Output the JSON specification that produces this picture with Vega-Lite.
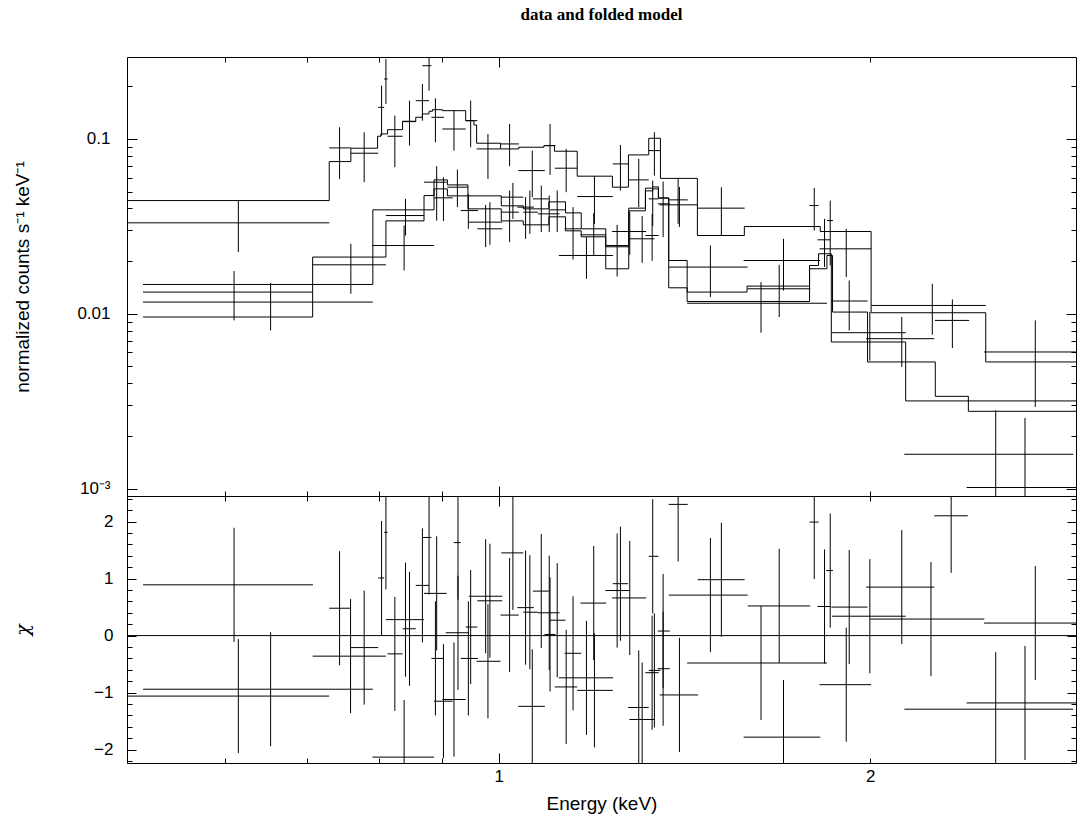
{
"$schema": "https://vega.github.io/schema/vega-lite/v6.json",
"background": "white",
"padding": {"left": 13, "right": 0, "top": 5, "bottom": 5},
"spacing": 0,
"bounds": "flush",
"config": {
 "view": {"stroke": null},
 "axis": {"labelFont": "Liberation Sans", "titleFont": "Liberation Sans", "labelFontSize": 17, "titleFontSize": 19, "titleFontWeight": "normal", "labelColor": "black", "titleColor": "black", "domainColor": "black", "tickColor": "black", "domainWidth": 1, "tickWidth": 1, "grid": false, "labelOverlap": false, "labelBound": false, "labelFlush": false}
},
"datasets": {
 "spec": [
  {"e":0.6105,"elo":0.5152,"ehi":0.7069,"y":0.0133,"ylo":0.00916,"yhi":0.01754},
  {"e":0.6154,"elo":0.5010,"ehi":0.7291,"y":0.03311,"ylo":0.02252,"yhi":0.0444},
  {"e":0.6536,"elo":0.5152,"ehi":0.7909,"y":0.01166,"ylo":0.00803,"yhi":0.01503},
  {"e":0.7433,"elo":0.7291,"ehi":0.7591,"y":0.08884,"ylo":0.05907,"yhi":0.1166},
  {"e":0.7591,"elo":0.7069,"ehi":0.8104,"y":0.01905,"ylo":0.01301,"yhi":0.02512},
  {"e":0.7782,"elo":0.7591,"ehi":0.7988,"y":0.08286,"ylo":0.05657,"yhi":0.1092},
  {"e":0.8039,"elo":0.7988,"ehi":0.8078,"y":0.1517,"ylo":0.1044,"yhi":0.2017},
  {"e":0.8104,"elo":0.8078,"ehi":0.8129,"y":0.2203,"ylo":0.1585,"yhi":0.2865},
  {"e":0.8240,"elo":0.8129,"ehi":0.8359,"y":0.1036,"ylo":0.06891,"yhi":0.1359},
  {"e":0.8384,"elo":0.7904,"ehi":0.8865,"y":0.02456,"ylo":0.01768,"yhi":0.03196},
  {"e":0.8406,"elo":0.8104,"ehi":0.8701,"y":0.03645,"ylo":0.02802,"yhi":0.04541},
  {"e":0.8469,"elo":0.8359,"ehi":0.8568,"y":0.1262,"ylo":0.09157,"yhi":0.1655},
  {"e":0.8675,"elo":0.8568,"ehi":0.8783,"y":0.1655,"ylo":0.1272,"yhi":0.2062},
  {"e":0.8783,"elo":0.8675,"ehi":0.8822,"y":0.2624,"ylo":0.1888,"yhi":0.3727},
  {"e":0.8888,"elo":0.8822,"ehi":0.9032,"y":0.1330,"ylo":0.09574,"yhi":0.1708},
  {"e":0.8909,"elo":0.8701,"ehi":0.9077,"y":0.05657,"ylo":0.03412,"yhi":0.06982},
  {"e":0.9022,"elo":0.8865,"ehi":0.9180,"y":0.04602,"ylo":0.0339,"yhi":0.06041},
  {"e":0.9201,"elo":0.9005,"ehi":0.9404,"y":0.1140,"ylo":0.08573,"yhi":0.1451},
  {"e":0.9260,"elo":0.9089,"ehi":0.9444,"y":0.05297,"ylo":0.04072,"yhi":0.06677},
  {"e":0.9492,"elo":0.9404,"ehi":0.9611,"y":0.1272,"ylo":0.08966,"yhi":0.1655},
  {"e":0.9451,"elo":0.9317,"ehi":0.9622,"y":0.03893,"ylo":0.0306,"yhi":0.0485},
  {"e":0.9761,"elo":0.9462,"ehi":1.0069,"y":0.03342,"ylo":0.02405,"yhi":0.04197},
  {"e":0.9839,"elo":0.9611,"ehi":1.0069,"y":0.0306,"ylo":0.02479,"yhi":0.04348},
  {"e":0.9803,"elo":0.9598,"ehi":1.0037,"y":0.08768,"ylo":0.05907,"yhi":0.1068},
  {"e":1.0207,"elo":1.0037,"ehi":1.0385,"y":0.09363,"ylo":0.06982,"yhi":0.1218},
  {"e":1.0270,"elo":1.0050,"ehi":1.0471,"y":0.04645,"ylo":0.0349,"yhi":0.05605},
  {"e":1.0207,"elo":1.0050,"ehi":1.0385,"y":0.03811,"ylo":0.02569,"yhi":0.05066},
  {"e":1.0516,"elo":1.0355,"ehi":1.0680,"y":0.04072,"ylo":0.02683,"yhi":0.04645},
  {"e":1.0600,"elo":1.0471,"ehi":1.0760,"y":0.03811,"ylo":0.02865,"yhi":0.05066},
  {"e":1.0648,"elo":1.0374,"ehi":1.0901,"y":0.0659,"ylo":0.04645,"yhi":0.08573},
  {"e":1.0828,"elo":1.0660,"ehi":1.0982,"y":0.04541,"ylo":0.0293,"yhi":0.05408},
  {"e":1.0990,"elo":1.0760,"ehi":1.1203,"y":0.03727,"ylo":0.0293,"yhi":0.04743},
  {"e":1.1007,"elo":1.0895,"ehi":1.1119,"y":0.09157,"ylo":0.06227,"yhi":0.1218},
  {"e":1.1155,"elo":1.1003,"ehi":1.1329,"y":0.03929,"ylo":0.0293,"yhi":0.05066},
  {"e":1.1343,"elo":1.1105,"ehi":1.1579,"y":0.06801,"ylo":0.0496,"yhi":0.08768},
  {"e":1.1489,"elo":1.1308,"ehi":1.1666,"y":0.0306,"ylo":0.02043,"yhi":0.04072},
  {"e":1.1780,"elo":1.1188,"ehi":1.2381,"y":0.02154,"ylo":0.01585,"yhi":0.02744},
  {"e":1.1957,"elo":1.1579,"ehi":1.2372,"y":0.04681,"ylo":0.03268,"yhi":0.06122},
  {"e":1.1941,"elo":1.1650,"ehi":1.2221,"y":0.02827,"ylo":0.02154,"yhi":0.03762},
  {"e":1.2474,"elo":1.2205,"ehi":1.2764,"y":0.02415,"ylo":0.01633,"yhi":0.03225},
  {"e":1.2551,"elo":1.2372,"ehi":1.2733,"y":0.07197,"ylo":0.05066,"yhi":0.09241},
  {"e":1.2771,"elo":1.2358,"ehi":1.3167,"y":0.02953,"ylo":0.02174,"yhi":0.03828},
  {"e":1.2987,"elo":1.2733,"ehi":1.3231,"y":0.05831,"ylo":0.04072,"yhi":0.07687},
  {"e":1.3070,"elo":1.2764,"ehi":1.3372,"y":0.02683,"ylo":0.01956,"yhi":0.03616},
  {"e":1.3330,"elo":1.3231,"ehi":1.3472,"y":0.04541,"ylo":0.0317,"yhi":0.05777},
  {"e":1.3372,"elo":1.3231,"ehi":1.3523,"y":0.08573,"ylo":0.0617,"yhi":0.1092},
  {"e":1.3315,"elo":1.3150,"ehi":1.3480,"y":0.02802,"ylo":0.02008,"yhi":0.03727},
  {"e":1.3591,"elo":1.3455,"ehi":1.3760,"y":0.04252,"ylo":0.02744,"yhi":0.05702},
  {"e":1.3977,"elo":1.3734,"ehi":1.4230,"y":0.04481,"ylo":0.03268,"yhi":0.05907},
  {"e":1.4011,"elo":1.3505,"ehi":1.4507,"y":0.04197,"ylo":0.03141,"yhi":0.05317},
  {"e":1.5151,"elo":1.4496,"ehi":1.5823,"y":0.04018,"ylo":0.02802,"yhi":0.05297},
  {"e":1.4844,"elo":1.3734,"ehi":1.5912,"y":0.01849,"ylo":0.01245,"yhi":0.02456},
  {"e":1.6314,"elo":1.4214,"ehi":1.8448,"y":0.01148,"ylo":0.007787,"yhi":0.01517},
  {"e":1.6877,"elo":1.5912,"ehi":1.7884,"y":0.01389,"ylo":0.009575,"yhi":0.01905},
  {"e":1.7013,"elo":1.5793,"ehi":1.8220,"y":0.02016,"ylo":0.01358,"yhi":0.02683},
  {"e":1.8017,"elo":1.7860,"ehi":1.8162,"y":0.04158,"ylo":0.02992,"yhi":0.05248},
  {"e":1.8562,"elo":1.8448,"ehi":1.8656,"y":0.03412,"ylo":0.01888,"yhi":0.0444},
  {"e":1.8366,"elo":1.8128,"ehi":1.8562,"y":0.02648,"ylo":0.01849,"yhi":0.0349},
  {"e":1.9231,"elo":1.8600,"ehi":1.9900,"y":0.01182,"ylo":0.008028,"yhi":0.0155},
  {"e":1.9124,"elo":1.8196,"ehi":2.0033,"y":0.02351,"ylo":0.01621,"yhi":0.0306},
  {"e":1.9985,"elo":1.8621,"ehi":2.1371,"y":0.007787,"ylo":0.005387,"yhi":0.01026},
  {"e":2.1212,"elo":1.9848,"ehi":2.2538,"y":0.007197,"ylo":0.00496,"yhi":0.009575},
  {"e":2.2454,"elo":2.0041,"ehi":2.4808,"y":0.01115,"ylo":0.007586,"yhi":0.01483},
  {"e":2.3311,"elo":2.2568,"ehi":2.4053,"y":0.009156,"ylo":0.006368,"yhi":0.01207},
  {"e":2.7210,"elo":2.4729,"ehi":2.9395,"y":0.006041,"ylo":0.00293,"yhi":0.009156},
  {"e":2.5274,"elo":2.1315,"ehi":2.9210,"y":0.00157,"ylo":0.0004,"yhi":0.002802},
  {"e":2.6693,"elo":2.3937,"ehi":2.9395,"y":0.001013,"ylo":0.0004,"yhi":0.002535}
 ],
 "model": [
  {"s":"U","e":0.5010,"m":0.0444},{"s":"U","e":0.7291,"m":0.0742},{"s":"U","e":0.7591,"m":0.08849},{"s":"U","e":0.7979,"m":0.1036},
  {"s":"U","e":0.8028,"m":0.1068},{"s":"U","e":0.8129,"m":0.1130},{"s":"U","e":0.8359,"m":0.1256},{"s":"U","e":0.8568,"m":0.1330},
  {"s":"U","e":0.8675,"m":0.1390},{"s":"U","e":0.8783,"m":0.1440},{"s":"U","e":0.8838,"m":0.1470},{"s":"U","e":0.9005,"m":0.1451},
  {"s":"U","e":0.9404,"m":0.1272},{"s":"U","e":0.9550,"m":0.1202},{"s":"U","e":0.9598,"m":0.0945},{"s":"U","e":1.0037,"m":0.08768},
  {"s":"U","e":1.0385,"m":0.08966},{"s":"U","e":1.0881,"m":0.09157},{"s":"U","e":1.1098,"m":0.08506},{"s":"U","e":1.1579,"m":0.06122},
  {"s":"U","e":1.2365,"m":0.05297},{"s":"U","e":1.2740,"m":0.08103},{"s":"U","e":1.3231,"m":0.1009},{"s":"U","e":1.3523,"m":0.05947},
  {"s":"U","e":1.4488,"m":0.02802},{"s":"U","e":1.5814,"m":0.03154},{"s":"U","e":1.8220,"m":0.02953},{"s":"U","e":2.0033,"m":0.01013},
  {"s":"U","e":2.4808,"m":0.005297},{"s":"U","e":2.9357,"m":0.005297},
  {"s":"A","e":0.5152,"m":0.009575},{"s":"A","e":0.7069,"m":0.02109},{"s":"A","e":0.8104,"m":0.03398},{"s":"A","e":0.8701,"m":0.04743},
  {"s":"A","e":0.8865,"m":0.05831},{"s":"A","e":0.9089,"m":0.05458},{"s":"A","e":0.9444,"m":0.04724},{"s":"A","e":1.0050,"m":0.04142},
  {"s":"A","e":1.0471,"m":0.03981},{"s":"A","e":1.0982,"m":0.04365},{"s":"A","e":1.1329,"m":0.03776},{"s":"A","e":1.1666,"m":0.0306},
  {"s":"A","e":1.2212,"m":0.02456},{"s":"A","e":1.2747,"m":0.03878},{"s":"A","e":1.3150,"m":0.05046},{"s":"A","e":1.3330,"m":0.0518},
  {"s":"A","e":1.3472,"m":0.04602},{"s":"A","e":1.3734,"m":0.02016},{"s":"A","e":1.4214,"m":0.0133},{"s":"A","e":1.5894,"m":0.01439},
  {"s":"A","e":1.7860,"m":0.01888},{"s":"A","e":1.8162,"m":0.02203},{"s":"A","e":1.8600,"m":0.006891},{"s":"A","e":2.1367,"m":0.00317},
  {"s":"A","e":2.9357,"m":0.00317},
  {"s":"B","e":0.5152,"m":0.0147},{"s":"B","e":0.7909,"m":0.03929},{"s":"B","e":0.8865,"m":0.0518},{"s":"B","e":0.9089,"m":0.04724},
  {"s":"B","e":0.9444,"m":0.03981},{"s":"B","e":1.0050,"m":0.03398},{"s":"B","e":1.0471,"m":0.03225},{"s":"B","e":1.0982,"m":0.03583},
  {"s":"B","e":1.1329,"m":0.0298},{"s":"B","e":1.1666,"m":0.02754},{"s":"B","e":1.2212,"m":0.01808},{"s":"B","e":1.2747,"m":0.04018},
  {"s":"B","e":1.3150,"m":0.05228},{"s":"B","e":1.3330,"m":0.05317},{"s":"B","e":1.3472,"m":0.04583},{"s":"B","e":1.3734,"m":0.01407},
  {"s":"B","e":1.4214,"m":0.01175},{"s":"B","e":1.7860,"m":0.01808},{"s":"B","e":1.8448,"m":0.02154},{"s":"B","e":1.8642,"m":0.01022},
  {"s":"B","e":1.9900,"m":0.005297},{"s":"B","e":2.2580,"m":0.003368},{"s":"B","e":2.4017,"m":0.002765},{"s":"B","e":2.9357,"m":0.002765}
 ],
 "resid": [
  {"e":0.6105,"elo":0.5152,"ehi":0.7073,"chi":0.89,"lo":-0.11,"hi":1.89},
  {"e":0.6154,"elo":0.5010,"ehi":0.7291,"chi":-1.06,"lo":-2.06,"hi":-0.06},
  {"e":0.6536,"elo":0.5152,"ehi":0.7909,"chi":-0.94,"lo":-1.94,"hi":0.06},
  {"e":0.7433,"elo":0.7291,"ehi":0.7591,"chi":0.48,"lo":-0.52,"hi":1.48},
  {"e":0.7587,"elo":0.7069,"ehi":0.8104,"chi":-0.36,"lo":-1.36,"hi":0.64},
  {"e":0.7782,"elo":0.7591,"ehi":0.7988,"chi":-0.21,"lo":-1.21,"hi":0.79},
  {"e":0.8039,"elo":0.7988,"ehi":0.8078,"chi":1.01,"lo":0.01,"hi":2.01},
  {"e":0.8104,"elo":0.8078,"ehi":0.8129,"chi":1.81,"lo":0.81,"hi":2.81},
  {"e":0.8240,"elo":0.8129,"ehi":0.8359,"chi":-0.32,"lo":-1.32,"hi":0.68},
  {"e":0.8384,"elo":0.7904,"ehi":0.8865,"chi":-2.13,"lo":-3.13,"hi":-1.13},
  {"e":0.8406,"elo":0.8104,"ehi":0.8701,"chi":0.28,"lo":-0.72,"hi":1.28},
  {"e":0.8469,"elo":0.8359,"ehi":0.8568,"chi":0.12,"lo":-0.88,"hi":1.12},
  {"e":0.8675,"elo":0.8568,"ehi":0.8783,"chi":0.88,"lo":-0.12,"hi":1.88},
  {"e":0.8783,"elo":0.8675,"ehi":0.8822,"chi":1.72,"lo":0.72,"hi":2.72},
  {"e":0.8888,"elo":0.8822,"ehi":0.9032,"chi":-0.40,"lo":-1.40,"hi":0.60},
  {"e":0.8909,"elo":0.8701,"ehi":0.9077,"chi":0.74,"lo":-0.26,"hi":1.74},
  {"e":0.9022,"elo":0.8865,"ehi":0.9180,"chi":-1.15,"lo":-2.15,"hi":-0.15},
  {"e":0.9201,"elo":0.9005,"ehi":0.9404,"chi":-1.12,"lo":-2.12,"hi":-0.12},
  {"e":0.9270,"elo":0.9196,"ehi":0.9317,"chi":1.63,"lo":0.63,"hi":2.63},
  {"e":0.9270,"elo":0.9060,"ehi":0.9462,"chi":0.05,"lo":-0.95,"hi":1.05},
  {"e":0.9492,"elo":0.9404,"ehi":0.9611,"chi":0.15,"lo":-0.85,"hi":1.15},
  {"e":0.9451,"elo":0.9317,"ehi":0.9622,"chi":-0.40,"lo":-1.40,"hi":0.60},
  {"e":0.9761,"elo":0.9462,"ehi":1.0069,"chi":0.69,"lo":-0.31,"hi":1.69},
  {"e":0.9839,"elo":0.9611,"ehi":1.0069,"chi":0.61,"lo":-0.39,"hi":1.61},
  {"e":0.9803,"elo":0.9598,"ehi":1.0037,"chi":-0.45,"lo":-1.45,"hi":0.55},
  {"e":1.0207,"elo":1.0037,"ehi":1.0385,"chi":0.36,"lo":-0.64,"hi":1.36},
  {"e":1.0270,"elo":1.0050,"ehi":1.0471,"chi":1.45,"lo":0.45,"hi":2.45},
  {"e":1.0516,"elo":1.0355,"ehi":1.0680,"chi":0.49,"lo":-0.51,"hi":1.49},
  {"e":1.0600,"elo":1.0471,"ehi":1.0760,"chi":0.41,"lo":-0.59,"hi":1.41},
  {"e":1.0648,"elo":1.0374,"ehi":1.0901,"chi":-1.24,"lo":-2.24,"hi":-0.24},
  {"e":1.0828,"elo":1.0660,"ehi":1.0982,"chi":0.78,"lo":-0.22,"hi":1.78},
  {"e":1.0990,"elo":1.0760,"ehi":1.1203,"chi":0.40,"lo":-0.60,"hi":1.40},
  {"e":1.1007,"elo":1.0895,"ehi":1.1119,"chi":0.02,"lo":-0.98,"hi":1.02},
  {"e":1.1155,"elo":1.1003,"ehi":1.1329,"chi":0.27,"lo":-0.73,"hi":1.27},
  {"e":1.1343,"elo":1.1105,"ehi":1.1579,"chi":-0.90,"lo":-1.90,"hi":0.10},
  {"e":1.1489,"elo":1.1308,"ehi":1.1666,"chi":-0.31,"lo":-1.31,"hi":0.69},
  {"e":1.1780,"elo":1.1188,"ehi":1.2381,"chi":-0.74,"lo":-1.74,"hi":0.26},
  {"e":1.1957,"elo":1.1579,"ehi":1.2372,"chi":-0.96,"lo":-1.96,"hi":0.04},
  {"e":1.1941,"elo":1.1650,"ehi":1.2221,"chi":0.57,"lo":-0.43,"hi":1.57},
  {"e":1.2474,"elo":1.2205,"ehi":1.2764,"chi":0.79,"lo":-0.21,"hi":1.79},
  {"e":1.2551,"elo":1.2372,"ehi":1.2733,"chi":0.91,"lo":-0.09,"hi":1.91},
  {"e":1.2771,"elo":1.2358,"ehi":1.3167,"chi":0.66,"lo":-0.34,"hi":1.66},
  {"e":1.2987,"elo":1.2733,"ehi":1.3231,"chi":-1.26,"lo":-2.26,"hi":-0.26},
  {"e":1.3070,"elo":1.2764,"ehi":1.3372,"chi":-1.47,"lo":-2.47,"hi":-0.47},
  {"e":1.3330,"elo":1.3231,"ehi":1.3472,"chi":1.39,"lo":0.39,"hi":2.39},
  {"e":1.3372,"elo":1.3231,"ehi":1.3523,"chi":-0.61,"lo":-1.61,"hi":0.39},
  {"e":1.3315,"elo":1.3150,"ehi":1.3480,"chi":-0.65,"lo":-1.65,"hi":0.35},
  {"e":1.3591,"elo":1.3455,"ehi":1.3760,"chi":0.08,"lo":-0.92,"hi":1.08},
  {"e":1.3591,"elo":1.3455,"ehi":1.3760,"chi":-0.58,"lo":-1.58,"hi":0.42},
  {"e":1.3977,"elo":1.3734,"ehi":1.4230,"chi":2.30,"lo":1.30,"hi":3.30},
  {"e":1.4011,"elo":1.3505,"ehi":1.4507,"chi":-1.04,"lo":-2.04,"hi":-0.04},
  {"e":1.5151,"elo":1.4496,"ehi":1.5823,"chi":0.98,"lo":-0.02,"hi":1.98},
  {"e":1.4844,"elo":1.3734,"ehi":1.5912,"chi":0.71,"lo":-0.29,"hi":1.71},
  {"e":1.6314,"elo":1.4214,"ehi":1.8448,"chi":-0.48,"lo":-1.48,"hi":0.52},
  {"e":1.6877,"elo":1.5912,"ehi":1.7884,"chi":0.52,"lo":-0.48,"hi":1.52},
  {"e":1.7013,"elo":1.5793,"ehi":1.8220,"chi":-1.78,"lo":-2.78,"hi":-0.78},
  {"e":1.8017,"elo":1.7860,"ehi":1.8162,"chi":1.99,"lo":0.99,"hi":2.99},
  {"e":1.8562,"elo":1.8424,"ehi":1.8656,"chi":1.14,"lo":0.14,"hi":2.14},
  {"e":1.8366,"elo":1.8128,"ehi":1.8562,"chi":0.51,"lo":-0.49,"hi":1.51},
  {"e":1.9231,"elo":1.8600,"ehi":1.9900,"chi":0.50,"lo":-0.50,"hi":1.50},
  {"e":1.9124,"elo":1.8196,"ehi":2.0033,"chi":-0.86,"lo":-1.86,"hi":0.14},
  {"e":1.9985,"elo":1.8621,"ehi":2.1371,"chi":0.34,"lo":-0.66,"hi":1.34},
  {"e":2.1212,"elo":1.9848,"ehi":2.2538,"chi":0.85,"lo":-0.15,"hi":1.85},
  {"e":2.2399,"elo":1.9996,"ehi":2.4743,"chi":0.29,"lo":-0.71,"hi":1.29},
  {"e":2.3259,"elo":2.2538,"ehi":2.3990,"chi":2.10,"lo":1.10,"hi":3.10},
  {"e":2.7210,"elo":2.4729,"ehi":2.9395,"chi":0.22,"lo":-0.78,"hi":1.22},
  {"e":2.6693,"elo":2.3937,"ehi":2.9395,"chi":-1.18,"lo":-2.18,"hi":-0.18},
  {"e":2.5274,"elo":2.1315,"ehi":2.9210,"chi":-1.29,"lo":-2.29,"hi":-0.29}
 ],
 "zero": [{"chi": 0}]
},
"vconcat": [
 {
  "width": 949, "height": 439,
  "title": {"text": "data and folded model", "font": "Liberation Serif", "fontSize": 17, "fontWeight": "bold", "color": "black", "anchor": "middle", "frame": "group", "offset": 33},
  "resolve": {"axis": {"x": "independent", "y": "independent"}},
  "layer": [
   {"data": {"name": "spec"},
    "mark": {"type": "rule", "color": "black", "strokeWidth": 1, "clip": true},
    "encoding": {
     "x": {"field": "elo", "type": "quantitative", "scale": {"type": "log", "domain": [0.5, 2.9357], "nice": false},
       "axis": {"orient": "bottom", "values": [0.6,0.7,0.8,0.9,1,2], "labels": false, "title": null, "labelOverlap": false,
         "tickSize": {"condition": {"test": "datum.value == 1", "value": -10}, "value": -5}}},
     "x2": {"field": "ehi"},
     "y": {"field": "y", "type": "quantitative", "scale": {"type": "log", "domain": [0.000906, 0.2943], "nice": false},
       "axis": {"orient": "left", "values": [0.001,0.002,0.003,0.004,0.005,0.006,0.007,0.008,0.009,0.01,0.02,0.03,0.04,0.05,0.06,0.07,0.08,0.09,0.1,0.2],
         "tickSize": {"condition": {"test": "datum.value == 0.1 || datum.value == 0.01 || datum.value == 0.001", "value": -10}, "value": -5},
         "labelExpr": "datum.value == 0.1 ? '0.1' : datum.value == 0.01 ? '0.01' : datum.value == 0.001 ? '10⁻³' : ''",
         "labelOverlap": false,
         "labelPadding": 27, "title": "normalized counts s⁻¹ keV⁻¹", "titleX": -105, "titleBaseline": "middle"}}
    }},
   {"data": {"name": "spec"},
    "mark": {"type": "rule", "color": "black", "strokeWidth": 1, "clip": true},
    "encoding": {
     "x": {"field": "e", "type": "quantitative", "scale": {"type": "log", "domain": [0.5, 2.9357], "nice": false},
       "axis": {"orient": "top", "values": [0.6,0.7,0.8,0.9,1,2], "labels": false, "title": null, "labelOverlap": false,
         "tickSize": {"condition": {"test": "datum.value == 1", "value": -10}, "value": -5}}},
     "y": {"field": "ylo", "type": "quantitative", "scale": {"type": "log", "domain": [0.000906, 0.2943], "nice": false},
       "axis": {"orient": "right", "values": [0.001,0.002,0.003,0.004,0.005,0.006,0.007,0.008,0.009,0.01,0.02,0.03,0.04,0.05,0.06,0.07,0.08,0.09,0.1,0.2],
         "tickSize": {"condition": {"test": "datum.value == 0.1 || datum.value == 0.01 || datum.value == 0.001", "value": -10}, "value": -5},
         "labels": false, "title": null, "labelOverlap": false}},
     "y2": {"field": "yhi"}
    }},
   {"data": {"name": "model"},
    "mark": {"type": "line", "interpolate": "step-after", "color": "black", "strokeWidth": 1, "clip": true},
    "encoding": {
     "x": {"field": "e", "type": "quantitative", "scale": {"type": "log", "domain": [0.5, 2.9357], "nice": false}, "axis": null},
     "y": {"field": "m", "type": "quantitative", "scale": {"type": "log", "domain": [0.000906, 0.2943], "nice": false}, "axis": null},
     "detail": {"field": "s", "type": "nominal"}
    }}
  ]
 },
 {
  "width": 949, "height": 267,
  "resolve": {"axis": {"x": "independent", "y": "independent"}},
  "layer": [
   {"data": {"name": "resid"},
    "mark": {"type": "rule", "color": "black", "strokeWidth": 1, "clip": true},
    "encoding": {
     "x": {"field": "elo", "type": "quantitative", "scale": {"type": "log", "domain": [0.5, 2.9357], "nice": false},
       "axis": {"orient": "bottom", "values": [0.6,0.7,0.8,0.9,1,2],
         "tickSize": {"condition": {"test": "datum.value == 1", "value": -10}, "value": -5},
         "labelExpr": "datum.value == 1 ? '1' : datum.value == 2 ? '2' : ''",
         "labelOverlap": false,
         "labelPadding": {"condition": {"test": "datum.value == 1", "value": 15}, "value": 10},
         "title": "Energy (keV)", "titleY": 40, "titleBaseline": "middle"}},
     "x2": {"field": "ehi"},
     "y": {"field": "chi", "type": "quantitative", "scale": {"domain": [-2.233, 2.447], "nice": false, "zero": false},
       "axis": {"orient": "left", "values": [-2.2,-2,-1.8,-1.6,-1.4,-1.2,-1,-0.8,-0.6,-0.4,-0.2,0,0.2,0.4,0.6,0.8,1,1.2,1.4,1.6,1.8,2,2.2,2.4],
         "tickSize": {"condition": {"test": "datum.value == round(datum.value)", "value": -9}, "value": -5},
         "labelExpr": "datum.value == 2 ? '2' : datum.value == 1 ? '1' : datum.value == 0 ? '0' : datum.value == -1 ? '−1' : datum.value == -2 ? '−2' : ''",
         "labelOverlap": false,
         "labelPadding": 23, "title": "χ", "titleFont": "DejaVu Serif", "titleFontStyle": "italic", "titleX": -105, "titleBaseline": "middle"}}
    }},
   {"data": {"name": "resid"},
    "mark": {"type": "rule", "color": "black", "strokeWidth": 1, "clip": true},
    "encoding": {
     "x": {"field": "e", "type": "quantitative", "scale": {"type": "log", "domain": [0.5, 2.9357], "nice": false},
       "axis": {"orient": "top", "values": [0.6,0.7,0.8,0.9,1,2], "labels": false, "title": null, "labelOverlap": false,
         "tickSize": {"condition": {"test": "datum.value == 1", "value": -10}, "value": -5}}},
     "y": {"field": "lo", "type": "quantitative", "scale": {"domain": [-2.233, 2.447], "nice": false, "zero": false},
       "axis": {"orient": "right", "values": [-2.2,-2,-1.8,-1.6,-1.4,-1.2,-1,-0.8,-0.6,-0.4,-0.2,0,0.2,0.4,0.6,0.8,1,1.2,1.4,1.6,1.8,2,2.2,2.4],
         "tickSize": {"condition": {"test": "datum.value == round(datum.value)", "value": -9}, "value": -5},
         "labels": false, "title": null, "labelOverlap": false}},
     "y2": {"field": "hi"}
    }},
   {"data": {"name": "zero"},
    "mark": {"type": "rule", "color": "black", "strokeWidth": 1},
    "encoding": {"y": {"field": "chi", "type": "quantitative", "scale": {"domain": [-2.233, 2.447], "nice": false, "zero": false}, "axis": null}}}
  ]
 }
]
}
